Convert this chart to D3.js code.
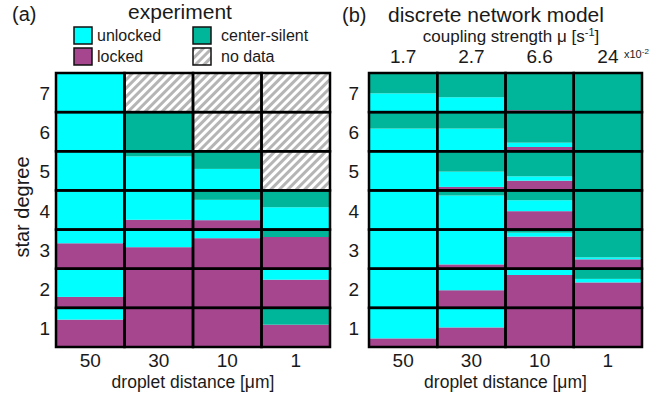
<!DOCTYPE html>
<html>
<head>
<meta charset="utf-8">
<script src="https://cdn.jsdelivr.net/npm/d3@7"></script>
<style>
  body { margin: 0; background: #fff; }
  svg { font-family: "Liberation Sans", Arial, sans-serif; }
  text { fill: #1a1a1a; }
</style>
</head>
<body>
<div id="chart"></div>
<script>
// star degree rows, bottom to top
const degrees = [1, 2, 3, 4, 5, 6, 7];
const distances = ['50', '30', '10', '1'];
const couplings = ['1.7', '2.7', '6.6', '24'];

// experiment fractions, rows = degree 1..7, cols = distance 50,30,10,1 (null = no data)
const expLocked = [
  [0.70, 1, 1, 0.57],
  [0.28, 1, 0.98, 0.72],
  [0.65, 0.55, 0.78, 0.81],
  [0, 0.25, 0.24, 0],
  [0, 0, 0, null],
  [0, 0, null, null],
  [0, null, null, null],
];
const expUnlocked = [
  [0.30, 0, 0, 0],
  [0.72, 0, 0.02, 0.28],
  [0.35, 0.45, 0.22, 0],
  [1, 0.75, 0.52, 0.57],
  [1, 0.87, 0.55, null],
  [1, 0, null, null],
  [1, null, null, null],
];
const expSilent = [
  [0, 0, 0, 0.43],
  [0, 0, 0, 0],
  [0, 0, 0, 0.19],
  [0, 0, 0.24, 0.43],
  [0, 0.13, 0.45, null],
  [0, 1, null, null],
  [0, null, null, null],
];

// model fractions, cols = coupling 1.7, 2.7, 6.6, 24
const modLocked = [
  [0.22, 0.5, 0.98, 1],
  [0, 0.45, 0.84, 0.65],
  [0, 0.11, 0.82, 0.24],
  [0, 0, 0.47, 0],
  [0, 0.09, 0.25, 0],
  [0, 0, 0.11, 0],
  [0, 0, 0.05, 0],
];
const modUnlocked = [
  [0.78, 0.5, 0.02, 0],
  [1, 0.55, 0.16, 0.09],
  [1, 0.89, 0.10, 0.05],
  [1, 0.87, 0.28, 0],
  [1, 0.39, 0.11, 0],
  [0.58, 0.58, 0.11, 0],
  [0.48, 0.38, 0, 0],
];
const modSilent = [
  [0, 0, 0, 0],
  [0, 0, 0, 0.26],
  [0, 0, 0.08, 0.71],
  [0, 0.13, 0.25, 1],
  [0, 0.52, 0.64, 1],
  [0.42, 0.42, 0.78, 1],
  [0.52, 0.62, 0.95, 1],
];

const colors = { locked: '#a5468f', unlocked: '#00ffff', silent: '#00b69a' };

const width = 671, height = 397;
const svg = d3.select('#chart').append('svg')
  .attr('width', width).attr('height', height);

// hatch pattern for "no data"
const pat = svg.append('defs').append('pattern')
  .attr('id', 'hatch')
  .attr('patternUnits', 'userSpaceOnUse')
  .attr('width', 6).attr('height', 6)
  .attr('patternTransform', 'rotate(45)');
pat.append('rect').attr('width', 6).attr('height', 6).attr('fill', '#fff');
pat.append('rect').attr('width', 3).attr('height', 6).attr('fill', '#b5b5b5');

const gridTop = 73, gridBottom = 347;
const yScale = d3.scaleBand().domain(degrees.slice().reverse()).range([gridTop, gridBottom]);

function cells(columns, locked, unlocked, silent) {
  const out = [];
  degrees.forEach((deg, i) => {
    columns.forEach((col, j) => {
      out.push({ deg, col, locked: locked[i][j], unlocked: unlocked[i][j], silent: silent[i][j] });
    });
  });
  return out;
}

function drawPanel(x0, x1, columns, data, yTickGap) {
  const xScale = d3.scaleBand().domain(columns).range([x0, x1]);
  const g = svg.append('g');

  const cell = g.selectAll('g.cell').data(data).join('g').attr('class', 'cell');

  cell.each(function (d) {
    const c = d3.select(this);
    const bx = xScale(d.col), bw = xScale.bandwidth();
    const frac = d3.scaleLinear().domain([0, 1])
      .range([yScale(d.deg) + yScale.bandwidth(), yScale(d.deg)]);
    if (d.locked === null) {
      c.append('rect').attr('x', bx).attr('y', frac(1)).attr('width', bw)
        .attr('height', frac(0) - frac(1)).attr('fill', 'url(#hatch)');
      return;
    }
    let acc = 0;
    [['locked', d.locked], ['unlocked', d.unlocked], ['silent', d.silent]].forEach(([k, v]) => {
      if (v > 0) {
        c.append('rect').attr('x', bx).attr('width', bw)
          .attr('y', frac(acc + v)).attr('height', frac(acc) - frac(acc + v))
          .attr('fill', colors[k]);
      }
      acc += v;
    });
  });

  // cell borders
  g.selectAll('rect.border').data(data).join('rect')
    .attr('class', 'border')
    .attr('x', (d) => xScale(d.col))
    .attr('y', (d) => yScale(d.deg))
    .attr('width', xScale.bandwidth())
    .attr('height', yScale.bandwidth())
    .attr('fill', 'none')
    .attr('stroke', '#000')
    .attr('stroke-width', 2.5);

  // y ticks
  const yAxis = svg.append('g')
    .attr('transform', `translate(${x0 - yTickGap},0)`)
    .call(d3.axisLeft(yScale).tickSize(0).tickPadding(0));
  yAxis.select('.domain').remove();
  yAxis.selectAll('text').attr('font-size', 19).attr('font-family', null)
    .attr('fill', '#1a1a1a').attr('dy', '0.4em');

  // x ticks: droplet distance under both panels
  const xDist = d3.scaleBand().domain(distances).range([x0, x1]);
  const xAxis = svg.append('g')
    .attr('transform', `translate(0,${gridBottom + 6})`)
    .call(d3.axisBottom(xDist).tickSize(0).tickPadding(0));
  xAxis.select('.domain').remove();
  xAxis.selectAll('text').attr('font-size', 19).attr('font-family', null)
    .attr('fill', '#1a1a1a').attr('dy', '0.72em');

  svg.append('text')
    .attr('x', (x0 + x1) / 2).attr('y', 388)
    .attr('text-anchor', 'middle').attr('font-size', 17.5)
    .text('droplet distance [μm]');

  return xScale;
}

drawPanel(56, 330, distances, cells(distances, expLocked, expUnlocked, expSilent), 6);
const xMod = drawPanel(369, 642, couplings, cells(couplings, modLocked, modUnlocked, modSilent), 10);

// top axis for coupling strength
const topAxis = svg.append('g')
  .attr('transform', `translate(0,${gridTop - 10})`)
  .call(d3.axisTop(xMod).tickSize(0).tickPadding(0));
topAxis.select('.domain').remove();
topAxis.selectAll('text').attr('font-size', 19).attr('font-family', null)
  .attr('fill', '#1a1a1a').attr('dy', 0);

const sci = svg.append('text').attr('x', 624).attr('y', 58).attr('font-size', 11);
sci.append('tspan').text('x10');
sci.append('tspan').attr('dy', -4).attr('font-size', 8).text('-2');

const cs = svg.append('text').attr('x', 511).attr('y', 42)
  .attr('text-anchor', 'middle').attr('font-size', 17);
cs.append('tspan').text('coupling strength μ [s');
cs.append('tspan').attr('dy', -6).attr('font-size', 11).text('-1');
cs.append('tspan').attr('dy', 6).text(']');

// titles
svg.append('text').attr('x', 12).attr('y', 21).attr('font-size', 20).text('(a)');
svg.append('text').attr('x', 180).attr('y', 19).attr('text-anchor', 'middle')
  .attr('font-size', 21).text('experiment');
svg.append('text').attr('x', 342).attr('y', 22).attr('font-size', 20).text('(b)');
svg.append('text').attr('x', 388).attr('y', 22).attr('font-size', 21).text('discrete network model');

// y label
svg.append('text')
  .attr('transform', 'translate(29,207) rotate(-90)')
  .attr('text-anchor', 'middle').attr('font-size', 20)
  .text('star degree');

// legend
const legendItems = [
  { label: 'unlocked', fill: colors.unlocked, x: 74, y: 27 },
  { label: 'locked', fill: colors.locked, x: 74, y: 48 },
  { label: 'center-silent', fill: colors.silent, x: 193, y: 27 },
  { label: 'no data', fill: 'url(#hatch)', x: 193, y: 48 },
];
const leg = svg.append('g').selectAll('g').data(legendItems).join('g')
  .attr('transform', (d) => `translate(${d.x},${d.y})`);
leg.append('rect').attr('width', 18).attr('height', 17)
  .attr('fill', (d) => d.fill).attr('stroke', '#111').attr('stroke-width', 1.5);
leg.append('text').attr('x', (d) => (d.label === 'unlocked' || d.label === 'locked') ? 23 : 28)
  .attr('y', 14).attr('font-size', 16).text((d) => d.label);
</script>
</body>
</html>
